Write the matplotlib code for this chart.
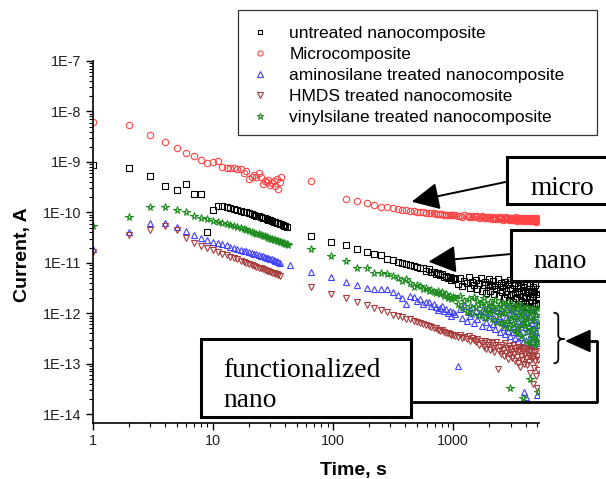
import numpy as np
import matplotlib
matplotlib.use("Agg")
import matplotlib.pyplot as plt
from matplotlib.patches import Rectangle, Polygon, PathPatch, FancyArrowPatch
from matplotlib.path import Path
from matplotlib.lines import Line2D
from matplotlib.ticker import FixedLocator, FuncFormatter, NullFormatter

plt.rcParams['font.family'] = ['Liberation Sans', 'DejaVu Sans']

# ---- data: time in s, current stored as log10(I / A) ----
labels = ["untreated nanocomposite", "Microcomposite",
          "aminosilane treated nanocomposite", "HMDS treated nanocomosite",
          "vinylsilane treated nanocomposite"]

t_untreated_early = np.arange(1, 42)
t_micro_early = np.arange(1, 38)
t_amino_early = np.r_[np.arange(1, 37), 44]
t_hmds_early = np.arange(1, 37)
t_vinyl_early = np.arange(1, 43)
# second measurement run, read every ~31 s, then every 50 s
t_late = np.r_[np.arange(66, 1000, 31), np.arange(1040, 5100, 50)]

untreated_early = [-9.07, -9.13, -9.28, -9.48, -9.56, -9.44, -9.64, -9.64, -10.39, -9.96,
                   -9.87, -9.87, -9.90, -9.91, -9.94, -9.95, -9.97, -9.99, -10.00, -10.02,
                   -10.04, -10.05, -10.07, -10.08, -10.10, -10.11, -10.12, -10.14, -10.15, -10.16,
                   -10.18, -10.19, -10.20, -10.21, -10.22, -10.23, -10.24, -10.25, -10.27, -10.28,
                   -10.30]
untreated_late = [-10.47, -10.59, -10.65, -10.73, -10.78, -10.82, -10.85, -10.93, -10.95, -10.98,
                  -11.00, -11.03, -11.04, -11.07, -11.08, -11.10, -11.11, -11.16, -11.13, -11.18,
                  -11.18, -11.22, -11.20, -11.25, -11.23, -11.28, -11.26, -11.31, -11.28, -11.35,
                  -11.30,
                  -11.33, -11.42, -11.30, -11.47, -11.36, -11.40, -11.28, -11.50, -11.38, -11.44,
                  -11.35, -11.52, -11.41, -11.30, -11.56, -11.45, -11.38, -11.60, -11.42, -11.33,
                  -11.55, -11.47, -11.36, -11.62, -11.44, -11.52, -11.32, -11.66, -11.48, -11.40,
                  -11.58, -11.45, -11.70, -11.38, -11.55, -11.62, -11.42, -11.74, -11.50, -11.35,
                  -11.64, -11.52, -11.78, -11.44, -11.60, -11.40, -11.70, -11.55, -11.82, -11.47,
                  -11.62, -11.38, -11.75, -11.56, -11.85, -11.48, -11.66, -11.42, -11.80, -11.58,
                  -11.70, -11.45, -11.88, -11.60, -11.52, -11.78, -11.40, -11.68, -11.92, -11.55,
                  -11.74, -11.48, -11.65, -11.86, -11.58, -11.44, -11.80, -11.62, -11.95, -11.52,
                  -11.70, -11.84]

micro_early = [-8.20, -8.26, -8.47, -8.61, -8.73, -8.82, -8.88, -8.96, -9.03, -9.01,
               -8.99, -9.10, -9.13, -9.13, -9.12, -9.15, -9.14, -9.23, -9.18, -9.33,
               -9.30, -9.26, -9.29, -9.23, -9.30, -9.43, -9.38, -9.40, -9.36, -9.46,
               -9.42, -9.38, -9.48, -9.33, -9.53, -9.39, -9.30]
micro_late = [-9.38, np.nan, -9.74, -9.78, -9.82, -9.86, -9.89, -9.90, -9.92, -9.93,
              -9.95, -9.96, -9.97, -9.98, -9.99, -9.99, -10.00, -10.01, -10.01, -10.02,
              -10.02, -10.03, -10.03, -10.04, -10.04, -10.05, -10.05, -10.05, -10.06, -10.06,
              -10.06,
              -10.06, -10.08, -10.07, -10.09, -10.06, -10.08, -10.10, -10.07, -10.09, -10.08,
              -10.10, -10.08, -10.11, -10.09, -10.07, -10.11, -10.10, -10.12, -10.09, -10.11,
              -10.10, -10.13, -10.09, -10.12, -10.11, -10.14, -10.10, -10.12, -10.13, -10.09,
              -10.12, -10.15, -10.11, -10.13, -10.10, -10.14, -10.12, -10.16, -10.11, -10.13,
              -10.14, -10.11, -10.16, -10.12, -10.15, -10.13, -10.10, -10.17, -10.13, -10.14,
              -10.12, -10.16, -10.14, -10.11, -10.17, -10.13, -10.15, -10.12, -10.18, -10.14,
              -10.13, -10.16, -10.11, -10.15, -10.18, -10.13, -10.16, -10.12, -10.17, -10.14,
              -10.15, -10.12, -10.18, -10.14, -10.16, -10.13, -10.19, -10.15, -10.12, -10.17,
              -10.14, -10.16]

amino_early = [-10.72, -10.38, -10.22, -10.22, -10.30, -10.37, -10.45, -10.50, -10.54, -10.58,
               -10.60, -10.63, -10.65, -10.68, -10.70, -10.72, -10.74, -10.76, -10.77, -10.79,
               -10.80, -10.82, -10.83, -10.84, -10.86, -10.87, -10.88, -10.90, -10.91, -10.92,
               -10.93, -10.94, -10.96, -10.97, -10.98, -11.00, -11.05]
amino_late = [-11.19, -11.29, -11.39, -11.44, -11.49, -11.51, -11.51, -11.51, -11.58, -11.63,
              -11.70, -11.81, -11.66, -11.68, -11.75, -11.72, -11.81, -11.78, -11.78, -11.85,
              -11.82, -11.88, -11.94, -11.90, -11.86, -11.95, -11.92, -12.00, -11.96, -12.05,
              -11.98,
              -12.02, -13.05, -11.92, -12.10, -11.85, -12.15, -11.98, -12.06, -11.88, -12.20,
              -11.95, -12.12, -12.02, -11.82, -12.25, -11.96, -12.08, -12.18, -11.90, -12.28,
              -12.00, -11.86, -12.22, -12.10, -12.32, -11.94, -12.15, -12.05, -12.38, -11.90,
              -12.18, -12.28, -11.98, -12.42, -12.08, -11.88, -12.35, -12.20, -12.02, -12.45,
              -12.12, -11.92, -12.38, -12.25, -12.50, -12.05, -11.96, -12.30, -12.15, -12.55,
              -12.00, -12.40, -12.22, -11.94, -12.48, -12.10, -12.58, -13.56, -12.28, -12.04,
              -13.66, -12.35, -12.18, -11.98, -12.52, -12.26, -12.62, -12.08, -12.42, -12.20,
              -12.55, -11.96, -12.30, -12.65, -12.14, -12.45, -12.02, -12.38, -12.60, -13.62,
              -12.24, -12.48]

hmds_early = [-10.78, -10.45, -10.35, -10.28, -10.35, -10.50, -10.60, -10.66, -10.71, -10.75,
              -10.78, -10.82, -10.85, -10.88, -10.91, -10.93, -10.96, -10.98, -11.00, -11.02,
              -11.04, -11.06, -11.08, -11.10, -11.11, -11.13, -11.14, -11.16, -11.17, -11.18,
              -11.20, -11.21, -11.22, -11.23, -11.25, -11.26]
hmds_late = [-11.48, -11.61, -11.69, -11.78, -11.84, -11.89, -11.94, -11.97, -12.04, -12.05,
             -12.08, -12.11, -12.12, -12.15, -12.18, -12.20, -12.21, -12.23, -12.25, -12.27,
             -12.30, -12.30, -12.33, -12.35, -12.34, -12.38, -12.40, -12.39, -12.42, -12.44,
             -12.43,
             -12.45, -12.48, -12.44, -12.50, -12.47, -12.52, -12.46, -12.55, -12.50, -12.53,
             -12.58, -12.52, -12.62, -12.55, -12.60, -12.66, -12.56, -12.70, -12.62, -12.58,
             -12.72, -12.60, -12.68, -12.76, -12.62, -12.58, -13.10, -12.74, -12.66, -12.80,
             -12.62, -12.72, -12.85, -12.60, -12.78, -12.68, -12.90, -12.64, -12.82, -12.70,
             -12.76, -12.88, -12.62, -12.80, -12.94, -12.68, -12.74, -12.86, -12.66, -12.98,
             -12.72, -13.06, -12.84, -12.66, -12.92, -12.76, -12.70, -13.00, -12.80, -12.68,
             -12.88, -12.74, -13.02, -12.70, -12.84, -12.96, -12.72, -13.18, -12.82, -12.90,
             -12.68, -13.40, -12.86, -12.76, -13.08, -12.94, -12.74, -13.24, -12.84, -13.48,
             -12.92, -13.12]

vinyl_early = [-10.27, -10.10, -9.90, -9.89, -9.96, -10.00, -10.08, -10.12, -10.14, -10.17,
               -10.19, -10.22, -10.24, -10.26, -10.28, -10.30, -10.32, -10.34, -10.35, -10.37,
               -10.39, -10.40, -10.42, -10.43, -10.45, -10.46, -10.47, -10.49, -10.50, -10.52,
               -10.53, -10.54, -10.55, -10.56, -10.57, -10.58, -10.59, -10.60, -10.61, -10.62,
               -10.63, -10.64]
vinyl_late = [-10.73, -10.87, -10.97, -11.10, -11.11, -11.20, -11.21, -11.23, -11.27, -11.31,
              -11.36, -11.33, -11.40, -11.48, -11.44, -11.47, -11.52, -11.50, -11.55, -11.53,
              -11.58, -11.60, -11.55, -11.62, -11.58, -11.65, -11.62, -11.70, -11.66, -11.72,
              -11.68,
              -11.70, -11.82, -11.66, -11.90, -11.75, -11.98, -11.72, -11.85, -12.02, -11.68,
              -11.88, -11.76, -12.05, -11.80, -11.95, -11.70, -12.10, -11.84, -11.92, -12.00,
              -11.78, -12.12, -11.86, -11.96, -11.74, -12.18, -11.90, -12.04, -11.82, -12.20,
              -11.95, -11.80, -12.25, -12.00, -11.86, -12.15, -11.78, -12.30, -11.92, -13.48,
              -12.08, -11.84, -12.22, -11.96, -12.35, -11.88, -12.12, -12.40, -11.82, -12.05,
              -12.28, -11.90, -12.45, -12.02, -11.86, -12.18, -13.69, -11.94, -12.25, -12.10,
              -12.55, -11.88, -12.20, -12.38, -11.98, -12.60, -12.08, -13.30, -12.32, -11.92,
              -12.48, -12.14, -12.50, -11.96, -12.42, -12.62, -12.04, -12.30, -11.90, -12.55,
              -13.56, -12.20]

y_decades = np.arange(-14, -6)
x_decades = np.arange(0, 4)

colors = ['black', '#ff4444', '#4040ff', '#a83a3a', '#1e8c1e']
markers = ['s', 'o', '^', 'v', '*']


def fx(x):
    # pixel column -> figure fraction
    return x / 606


def fy(y):
    # pixel row (from top) -> figure fraction
    return 1 - y / 479


fig = plt.figure(figsize=(6.06, 4.79), dpi=100)
ax = fig.add_axes([fx(92.7), fy(422.7), fx(539.3) - fx(92.7), fy(61) - fy(422.7)])

series = [
    (t_untreated_early, untreated_early, untreated_late),
    (t_micro_early, micro_early, micro_late),
    (t_amino_early, amino_early, amino_late),
    (t_hmds_early, hmds_early, hmds_late),
    (t_vinyl_early, vinyl_early, vinyl_late),
]
sizes = [4.3, 4.6, 4.8, 4.8, 5.6]
for (te, ye, yl), lab, col, mk, ms in zip(series, labels, colors, markers, sizes):
    t = np.r_[te, t_late]
    cur = 10.0 ** np.r_[ye, yl]
    ax.plot(t, cur, ls='none', marker=mk, ms=ms, mfc='none', mec=col, mew=0.8, label=lab)

ax.set_xscale('log')
ax.set_yscale('log')
ax.set_xlim(1, 5200)
ax.set_ylim(10 ** -14.17, 1e-7)

for s in ['top', 'right']:
    ax.spines[s].set_visible(False)
for s in ['left', 'bottom']:
    ax.spines[s].set_linewidth(1.2)

# only ticks inside the visible range
x_minor = [m * 10.0 ** d for d in x_decades for m in range(2, 10) if m * 10.0 ** d <= 5200]
y_minor = [m * 10.0 ** d for d in y_decades[:-1] for m in range(2, 10)]
ax.xaxis.set_major_locator(FixedLocator(10.0 ** x_decades))
ax.xaxis.set_minor_locator(FixedLocator(x_minor))
ax.yaxis.set_major_locator(FixedLocator(10.0 ** y_decades))
ax.yaxis.set_minor_locator(FixedLocator(y_minor))
ax.xaxis.set_major_formatter(FuncFormatter(lambda v, p: "%d" % round(v)))
ax.yaxis.set_major_formatter(FuncFormatter(lambda v, p: "1E%d" % round(np.log10(v))))
ax.xaxis.set_minor_formatter(NullFormatter())
ax.yaxis.set_minor_formatter(NullFormatter())
ax.tick_params(which='major', direction='out', length=5, width=1, labelsize=10.4,
               labelcolor='#222222', pad=3)
ax.tick_params(which='minor', direction='out', length=3, width=0.8)

fig.text(fx(353), fy(470), "Time, s", ha='center', va='center', fontsize=14, fontweight='bold')
fig.text(fx(22.5), fy(255), "Current, A", ha='center', va='center', rotation=90,
         fontsize=14, fontweight='bold')

# legend, frame drawn separately
ax.legend(loc='upper left', bbox_to_anchor=(fx(251), fy(26)), bbox_transform=fig.transFigure,
          frameon=False, borderpad=0, borderaxespad=0, handlelength=1.0, handletextpad=1.2,
          labelspacing=0.34, fontsize=12.5, markerscale=0.8)
fig.add_artist(Rectangle((fx(238.3), fy(135)), fx(596.7) - fx(238.3), fy(10) - fy(135),
                         transform=fig.transFigure, fc='none', ec='#333333', lw=0.9))

# annotation arrows
for start, tip in [((507, 181.7), (411.7, 201.7)), ((511, 254), (428.5, 261.7))]:
    fig.add_artist(FancyArrowPatch((fx(start[0]), fy(start[1])), (fx(tip[0]), fy(tip[1])),
                                   transform=fig.transFigure, arrowstyle='-|>,head_length=0.85,head_width=0.42',
                                   mutation_scale=20, lw=1.4, color='black',
                                   shrinkA=0, shrinkB=0, zorder=4))

# annotation boxes
boxes = [((507, 157.3), (620, 204)), ((511, 230), (620, 280.7)), ((201, 339.3), (411, 416.7))]
for (x0, y0), (x1, y1) in boxes:
    fig.add_artist(Rectangle((fx(x0), fy(y1)), fx(x1) - fx(x0), fy(y0) - fy(y1),
                             transform=fig.transFigure, fc='white', ec='black', lw=2.2, zorder=5))

serif = ['Liberation Serif', 'DejaVu Serif']
fig.text(fx(562), fy(195), "micro", ha='center', va='baseline', fontsize=19.8, family=serif, zorder=6)
fig.text(fx(560), fy(268), "nano", ha='center', va='baseline', fontsize=19.8, family=serif, zorder=6)
fig.text(fx(223), fy(376.7), "functionalized", ha='left', va='baseline', fontsize=19.8,
         family=serif, zorder=6)
fig.text(fx(223), fy(407), "nano", ha='left', va='baseline', fontsize=19.8, family=serif, zorder=6)

# brace and connector to the functionalized box
xh, xv, xt = 553.5, 558.3, 564.5
yt, ym, yb = 312.7, 339, 363.3
brace = [(xh, yt), (xv - 1, yt), (xv, yt + 2), (xv, yt + 5),
         (xv, ym - 4),
         (xv, ym - 1), (xv + 2, ym), (xt, ym),
         (xv + 2, ym), (xv, ym + 1), (xv, ym + 4),
         (xv, yb - 5),
         (xv, yb - 2), (xv - 1, yb), (xh, yb)]
codes = [Path.MOVETO, Path.CURVE4, Path.CURVE4, Path.CURVE4,
         Path.LINETO,
         Path.CURVE4, Path.CURVE4, Path.CURVE4,
         Path.CURVE4, Path.CURVE4, Path.CURVE4,
         Path.LINETO,
         Path.CURVE4, Path.CURVE4, Path.CURVE4]
fig.add_artist(PathPatch(Path([(fx(a), fy(b)) for a, b in brace], codes),
                         transform=fig.transFigure, fc='none', ec='black', lw=1.3, zorder=6))
fig.add_artist(Polygon([(fx(566.7), fy(341)), (fx(590), fy(330.5)), (fx(590), fy(351.5))],
                       closed=True, transform=fig.transFigure, fc='black', ec='black', zorder=6))
fig.add_artist(Line2D([fx(589), fx(597), fx(597), fx(411)], [fy(341), fy(341), fy(401.7), fy(401.7)],
                      transform=fig.transFigure, color='black', lw=2.0, zorder=6))

fig.savefig("out.png", dpi=100)
